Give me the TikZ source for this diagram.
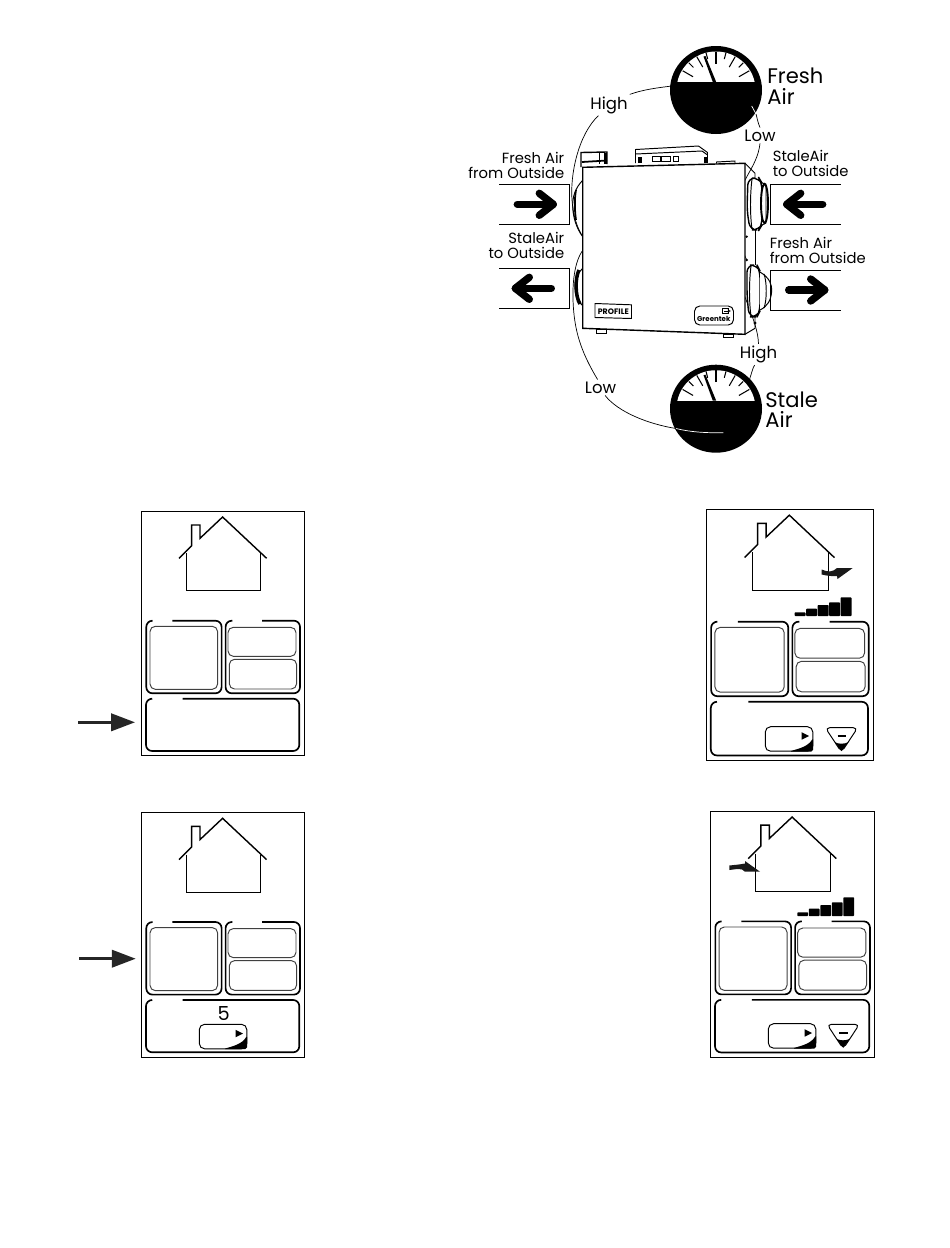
\documentclass[tikz,border=0pt]{standalone}
\usepackage{fontspec}
\setmainfont{Poppins}
\usetikzlibrary{arrows.meta}

\tikzset{
  thinline/.style={line width=0.55pt},
  leader/.style={line width=0.4pt},
  ductlabel/.style={font=\fontsize{8.4}{8.6}\selectfont, inner sep=0pt},
  biglabel/.style={font=\fontsize{12}{11.9}\selectfont, inner sep=0pt, align=left, anchor=west},
  gaugelabel/.style={font=\fontsize{9.4}{10}\selectfont, inner sep=1pt},
  ductarrow/.style={line width=4.2pt, line cap=round, line join=round},
  pointer/.style={-{Triangle[length=13.6pt,width=9.9pt]}, line width=1.5pt, black!85}
}

% ductbox: open-ended box with a fat arrow, #3=1 opens left, #3=-1 opens right, #4=1 arrow right
\newcommand{\ductbox}[4]{
  \begin{scope}[shift={(#1,#2)}, xscale=#3]
    \draw[thinline] (-35,-20) -- (35,-20) -- (35,20) -- (-35,20);
    \begin{scope}[xscale=#4]
      \draw[ductarrow] (-17,0) -- (19,0);
      \draw[ductarrow] (5,-11) -- (19,0) -- (5,11);
    \end{scope}
  \end{scope}
}

% airgauge: dial with the lower part blacked out
\newcommand{\airgauge}[2]{
  \begin{scope}[shift={(#1,#2)}]
    \fill[black] (0,0) circle [x radius=46, y radius=44];
    \begin{scope}
      \clip (0,0) circle [x radius=39.5, y radius=38.5];
      \fill[white] (-40,-40) rectangle (40,-8);
    \end{scope}
    \foreach \a in {30,60,90,120,150} {
      \draw[line width=0.6pt] (-\a:26.5) -- (-\a:38.5);
    }
    \foreach \a in {45,75,105,135} {
      \draw[line width=0.6pt] (-\a:32) -- (-\a:38.5);
    }
    \fill[black] (-3.2,-8) -- (-12.5,-33.5) -- (-10.5,-34) -- (0.2,-8) -- cycle;
  \end{scope}
}

% gapbox: rounded box whose top edge stops between #5 and #6
\newcommand{\gapbox}[6]{
  \draw[line width=0.95pt, rounded corners=3.5pt] (#6,#2) -- (#3,#2) -- (#3,#4) -- (#1,#4) -- (#1,#2) -- (#5,#2);
}

% housepanel: the frame, the house and the empty boxes
\newcommand{\housepanel}[4]{
  \begin{scope}[shift={(#1,#2)}, xscale=#3, yscale=#4]
    \draw[thinline] (0,0) rectangle (163,244.7);
    \draw[line width=0.8pt] (37.7,47.3) -- (50.3,34.7) -- (50.3,14) -- (58.7,14) -- (58.7,27.3) -- (81.3,6) -- (125.3,47.3);
    \draw[thinline] (45,42.3) -- (45,79.7) -- (119.3,79.7) -- (119.3,42.3);
    \gapbox{5}{109.7}{80.3}{182.3}{11}{31}
    \gapbox{84.3}{109.7}{158.7}{182.3}{91}{120.7}
    \gapbox{4.7}{187.7}{158}{240}{10.7}{41.3}
    \draw[thinline, black!75, rounded corners=3pt] (8.7,115.3) rectangle (76.3,178.3);
    \draw[thinline, black!75, rounded corners=3pt] (86.7,116.3) rectangle (154.7,145.3);
    \draw[thinline, black!75, rounded corners=3pt] (88,148.3) rectangle (155.3,178);
  \end{scope}
}

% playkey: button with the arrow and the corner wedge
\newcommand{\playkey}[2]{
  \begin{scope}[shift={(#1,#2)}]
    \draw[thinline, rounded corners=3pt] (0,0) rectangle (47.5,24.5);
    \fill[black, rounded corners=1pt] (24,24.8) .. controls (33,22) and (43,20) .. (47.8,11) -- (47.8,24.8) -- cycle;
    \fill[black] (36.3,5.5) -- (43.7,9.3) -- (36.3,13) -- cycle;
  \end{scope}
}

% minuskey: rounded triangle with the minus sign
\newcommand{\minuskey}[2]{
  \begin{scope}[shift={(#1,#2)}]
    \draw[thinline, rounded corners=2.5pt] (0,0) -- (32.4,0) -- (16.2,24.5) -- cycle;
    \fill[black] (9.5,14.5) .. controls (13,16.5) and (19,16.5) .. (23,14.5) -- (16.2,23.5) -- cycle;
    \draw[line width=1.1pt] (12.3,8.3) -- (20.7,8.3);
  \end{scope}
}

% levelbars: five steps, rising to the right
\newcommand{\levelbars}[2]{
  \begin{scope}[shift={(#1,#2)}]
    \foreach \barx/\barh in {0/3.7,11.5/7.3,23/11,34.5/13.7,46/18.7} {
      \fill[black, rounded corners=0.4pt] (\barx,0) rectangle ++(10.8,-\barh);
    }
  \end{scope}
}

\begin{document}
\begin{tikzpicture}[x=0.02cm, y=-0.02cm]
\useasboundingbox (0,0) rectangle (950,1248);

% ============================================================
% Leaders (below the gauges and the unit)
% ============================================================
\node[gaugelabel] (highfresh) at (609,105) {High};
\node[gaugelabel] (lowfresh) at (760,135.5) {Low};
\node[gaugelabel] (highstale) at (758.5,354.5) {High};
\node[gaugelabel] (lowstale) at (600.5,387.5) {Low};

\coordinate (freshhigh) at (672,86);
\coordinate (freshlow) at (756,114);
\coordinate (stalehigh) at (749.3,380);
\coordinate (stalelow) at (676,428.5);
\coordinate (portA) at (583,237);
\coordinate (portB) at (746.7,260);
\coordinate (portC) at (745,238);
\coordinate (portD) at (583,250);

\draw[leader] (freshhigh) .. controls (655,88) and (642,90) .. (highfresh.north east);
\draw[leader] (highfresh.225) .. controls (578,135) and (570,175) .. (572,200) .. controls (573,215) and (577,228) .. (portA);
\draw[leader] (freshlow) .. controls (757,117) and (757,120) .. (lowfresh.north);
\draw[leader] (lowfresh.south) .. controls (757,170) and (737,180) .. (737,212) .. controls (737,235) and (742,250) .. (portB);
\draw[leader] (portC) .. controls (738,243) and (735,250) .. (736,262) .. controls (738,290) and (758,320) .. (highstale.north);
\draw[leader] (highstale.250) .. controls (753,367) and (752,372) .. (stalehigh);
\draw[leader] (portD) .. controls (574,262) and (572,285) .. (573.3,306) .. controls (575,335) and (583,355) .. (lowstale.110);
\draw[leader] (lowstale.300) .. controls (618,412) and (648,424) .. (stalelow);

% ============================================================
% Unit
% ============================================================
% left ports
\draw[thinline] (583,180) .. controls (575,188) and (572.7,197) .. (572.7,205) .. controls (572.7,216) and (576,228) .. (583,237);
\draw[line width=1pt] (576,190) .. controls (574.5,198) and (574.5,210) .. (576,220);
\draw[thinline] (583,268) .. controls (578,272) and (575,280) .. (575,288) .. controls (575,295) and (578,302) .. (583,306);
\draw[line width=2pt] (579,270) .. controls (575,278) and (575,296) .. (580,304);

% right ports
\draw[line width=0.8pt, fill=white, rounded corners=4pt] (748,178) -- (759,178) -- (762,183) -- (762,225) -- (759,230) -- (750,230) -- (747,210) -- cycle;
\draw[thinline] (752,179) .. controls (750,195) and (750,215) .. (752,229);
\draw[thinline, fill=white] (762,183) -- (766,184) -- (766,223) -- (762,225);
\draw[line width=1.1pt] (764.5,203.5) circle [x radius=3.5, y radius=19.5];
\draw[line width=0.8pt, fill=white, rounded corners=4pt] (747,265) -- (757,265) -- (760,271) -- (760,311) -- (757,317) -- (749,317) -- (747,295) -- cycle;
\draw[thinline] (751,266) .. controls (749,282) and (749,302) .. (751,316);
\draw[thinline, fill=white] (760,272) .. controls (770,278) and (772,285) .. (771.7,291) .. controls (771,300) and (768,306) .. (760,310);
\draw[thinline] (764,274) .. controls (767,282) and (767,300) .. (764,308);

% top boxes
\draw[line width=0.8pt, fill=white] (581,167) -- (581,152.5) -- (607,152) -- (607,164);
\fill[black] (603.5,153) rectangle (607,164);
\draw[thinline] (599,152.5) -- (599,164);
\draw[line width=1pt] (582,162) -- (607,160.5);
\draw[thinline, fill=white] (635.5,163) -- (635.5,149.5) -- (698.5,146) -- (707.5,152.5) -- (707.5,163);
\draw[thinline] (635.5,154) -- (702,151) -- (707.5,155);
\draw[thinline] (652.5,156.5) rectangle (660,161.5);
\draw[thinline] (661.5,156.5) rectangle (670,161.5);
\draw[thinline] (673,156.5) rectangle (678.5,161.5);
\fill[black] (638,156.5) rectangle (641.5,163);
\fill[black] (703.5,156.5) rectangle (706.5,163);
\draw[thinline] (716.5,163.5) -- (716.5,162) -- (735,161) -- (735,163.5);

% body and side
\draw[line width=0.8pt, fill=white] (582.7,167.3) -- (745,163.3) -- (745,334.3) -- (582.7,328.3) -- cycle;
\draw[thinline] (745,163.3) -- (755,173.3) -- (755,178);
\draw[thinline] (755,230) -- (755,265);
\draw[thinline] (755,317) -- (755,328.3) -- (745,334.3);
\draw[thinline, fill=white] (596.7,329) rectangle (606.7,333);
\draw[thinline, fill=white] (723.3,334) rectangle (733.3,337);
\fill[black] (746.7,236.7) circle (1.3);
\fill[black] (746.7,260) circle (1.3);
\fill[black] (755,323) circle (1.6);

% logos
\draw[thinline] (595,303.5) -- (631.5,304.8) -- (631.5,318.5) -- (595,317.5) -- cycle;
\node[font=\fontsize{4.5}{5}\selectfont\bfseries, inner sep=0pt] (profilelogo) at (613.3,311.3) {PROFILE};
\draw[thinline, rounded corners=3pt] (694.5,306) rectangle (733.5,325);
\node[font=\fontsize{4}{5}\selectfont\bfseries, inner sep=0pt] (greentek) at (713.7,318.5) {Greentek};
\draw[line width=0.5pt] (722,308.5) rectangle (728,313.5);
\draw[line width=0.5pt, -{Stealth[length=2pt]}] (724,311) -- (731,311);

% ============================================================
% Gauges
% ============================================================
\airgauge{716}{90}
\airgauge{716}{408.7}
\draw[leader, white] (751.7,106) -- (freshlow);
\draw[leader, white] (stalelow) .. controls (690,432) and (705,433) .. (723.3,432.7);

\node[biglabel] (freshlabel) at (767,86.3) {Fresh\\Air};
\node[biglabel] (stalelabel) at (765,409.7) {Stale\\Air};

% ============================================================
% Ducts
% ============================================================
\ductbox{534.3}{204.3}{1}{1}
\ductbox{534.3}{288.3}{1}{-1}
\ductbox{805.7}{204.3}{-1}{1}
\ductbox{805.7}{290}{-1}{-1}

\node[ductlabel, align=right, anchor=east] (ductA) at (564.5,165.8) {Fresh Air\\from Outside};
\node[ductlabel, align=right, anchor=east] (ductB) at (564.5,245.8) {StaleAir\\to Outside};
\node[ductlabel, align=left, anchor=west] (ductC) at (772.5,163.5) {StaleAir\\to Outside};
\node[ductlabel, align=left, anchor=west] (ductD) at (769.5,250.5) {Fresh Air\\from Outside};

% ============================================================
% Panels
% ============================================================
\housepanel{141.3}{511}{1}{1}
\housepanel{706}{509}{1.025}{1.027}
\housepanel{141.3}{812.3}{1}{1}
\housepanel{710.3}{811}{1.006}{1.006}

% pointers
\coordinate (pointAstart) at (78.3,722.3);
\coordinate (pointAend) at (135,722.3);
\coordinate (pointBstart) at (79,958.7);
\coordinate (pointBend) at (135.7,958.7);
\draw[pointer] (pointAstart) -- (pointAend);
\draw[pointer] (pointBstart) -- (pointBend);

% airflow arrows at the house
\fill[black!90] (821.7,569.5) .. controls (828,572.5) and (833,572) .. (837,568) -- (852.7,568) -- (837.5,579) -- (837,576) .. controls (831,576.5) and (826,575.5) .. (821.7,574.5) -- cycle;
\fill[black!90] (729.3,865.5) .. controls (734,865) and (740,864.5) .. (745,863.5) -- (745,861) -- (760,871.7) -- (745,871.7) -- (742,869.5) .. controls (738,868.5) and (734,869.5) .. (729.3,870) -- cycle;

% keys and bars
\levelbars{794.7}{616}
\levelbars{797.3}{916}
\playkey{765.3}{726.7}
\minuskey{825.3}{727.7}
\playkey{768.3}{1023.7}
\minuskey{827}{1024.3}
\playkey{199.3}{1024.3}
\node[font=\fontsize{11}{11}\selectfont, inner sep=0pt] (stepdigit) at (223.7,1013.5) {5};

\end{tikzpicture}
\end{document}
